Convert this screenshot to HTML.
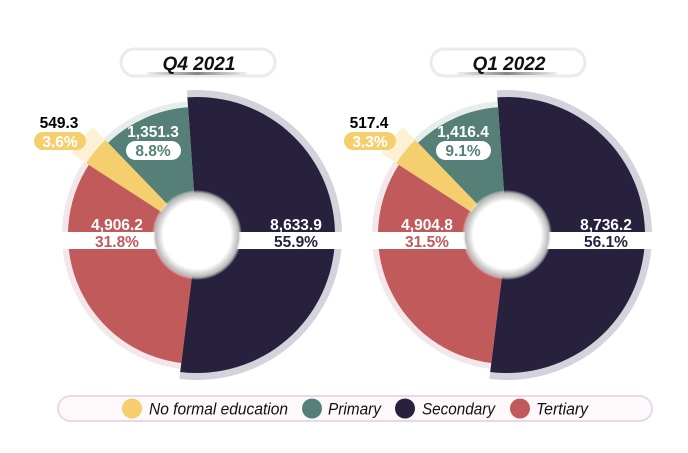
<!DOCTYPE html>
<html><head><meta charset="utf-8"><style>
body{margin:0;background:#fff;width:688px;height:453px;overflow:hidden}
svg{display:block;font-family:"Liberation Sans",Arial,sans-serif}
</style></head><body>
<svg id="s" width="688" height="453" viewBox="0 0 688 453">
<defs>
<radialGradient id="hole" cx="50%" cy="50%" r="50%">
<stop offset="0.75" stop-color="#fff"/><stop offset="0.92" stop-color="#bdbdbd"/><stop offset="1" stop-color="#fff" stop-opacity="0"/>
</radialGradient>
<linearGradient id="tsh" x1="0" x2="1"><stop offset="0" stop-color="#eee"/><stop offset="0.5" stop-color="#888"/><stop offset="1" stop-color="#eee"/></linearGradient>
</defs>
<g id="pies"></g>
<g id="lab" font-weight="bold"></g>
<rect x="58" y="396" width="594" height="25" rx="12.5" fill="#fdf8fa" stroke="#e6d9ea" stroke-width="2"/>
<g font-size="17" font-style="italic" fill="#111">
<circle cx="132" cy="408.5" r="10" fill="#f5cf6e"/><text x="149" y="414.5" textLength="139" lengthAdjust="spacingAndGlyphs">No formal education</text>
<circle cx="312" cy="408.5" r="10" fill="#567f78"/><text x="328" y="414.5" textLength="53" lengthAdjust="spacingAndGlyphs">Primary</text>
<circle cx="405" cy="408.5" r="10" fill="#27213e"/><text x="422" y="414.5" textLength="73" lengthAdjust="spacingAndGlyphs">Secondary</text>
<circle cx="520" cy="408.5" r="10" fill="#c05a5b"/><text x="536" y="414.5" textLength="52" lengthAdjust="spacingAndGlyphs">Tertiary</text>
</g>
</svg>
<script>
const NS="http://www.w3.org/2000/svg";
function pt(cx,cy,r,a){a=a*Math.PI/180;return [cx+r*Math.sin(a),cy-r*Math.cos(a)];}
function arc(cx,cy,r0,r1,a0,a1){const L=(a1-a0)>180?1:0;const p1=pt(cx,cy,r1,a0),p2=pt(cx,cy,r1,a1),p3=pt(cx,cy,r0,a1),p4=pt(cx,cy,r0,a0);
return `M${p1}A${r1},${r1} 0 ${L} 1 ${p2}L${p3}A${r0},${r0} 0 ${L} 0 ${p4}Z`;}
function add(g,tag,at){const e=document.createElementNS(NS,tag);for(const k in at)e.setAttribute(k,at[k]);g.appendChild(e);return e;}
const G=document.getElementById('pies'),T=document.getElementById('lab');
const P=[{cx:197,t:"Q4 2021",v:["549.3","3.6%","1,351.3","8.8%","4,906.2","31.8%","8,633.9","55.9%"]},
{cx:507,t:"Q1 2022",v:["517.4","3.3%","1,416.4","9.1%","4,904.8","31.5%","8,736.2","56.1%"]}];
P.forEach(p=>{const cx=p.cx,cy=235;
 add(G,'path',{d:arc(cx,cy,0,145,-4,187),fill:'#d4d2da'});
 add(G,'path',{d:arc(cx,cy,0,135,187,303),fill:'#f4e7eb'});
 add(G,'path',{d:arc(cx,cy,0,134,316,356),fill:'#e6eeec'});
 add(G,'path',{d:arc(cx,cy,0,150,303,316),fill:'#fcf1d4'});
 add(G,'path',{d:arc(cx,cy,0,138,-4,187),fill:'#27213e'});
 add(G,'path',{d:arc(cx,cy,0,129,187,303),fill:'#c05a5b'});
 add(G,'path',{d:arc(cx,cy,0,128,316,356),fill:'#567f78'});
 add(G,'path',{d:arc(cx,cy,0,132,303,316),fill:'#f5cf6e'});
 add(G,'rect',{x:cx-135,y:232,width:283,height:17,fill:'#fff'});
 add(G,'circle',{cx:cx,cy:cy,r:45,fill:'url(#hole)'});
 add(G,'rect',{x:cx-76,y:49,width:154,height:27,rx:13.5,fill:'#fff',stroke:'#ebebed','stroke-width':3});
 add(G,'rect',{x:cx-50,y:72,width:100,height:3,fill:'url(#tsh)'});
 const tx=add(G,'text',{x:cx+2,y:70,'text-anchor':'middle','font-size':19,'font-weight':'bold','font-style':'italic',fill:'#111'});tx.textContent=p.t;
 const v=p.v;
 let e=add(T,'text',{x:cx-138,y:128,'font-size':15.5,fill:'#000','text-anchor':'middle'});e.textContent=v[0];
 add(T,'rect',{x:cx-163,y:132,width:52,height:18,rx:9,fill:'#f5cf6e'});
 e=add(T,'text',{x:cx-137,y:147,'font-size':15.5,fill:'#fff','text-anchor':'middle'});e.textContent=v[1];
 e=add(T,'text',{x:cx-44,y:137,'font-size':15.5,fill:'#fff','text-anchor':'middle'});e.textContent=v[2];
 add(T,'rect',{x:cx-71,y:141,width:55,height:19,rx:9.5,fill:'#fff'});
 e=add(T,'text',{x:cx-44,y:156,'font-size':15.5,fill:'#567f78','text-anchor':'middle'});e.textContent=v[3];
 e=add(T,'text',{x:cx-80,y:230,'font-size':15.5,fill:'#fff','text-anchor':'middle'});e.textContent=v[4];
 e=add(T,'text',{x:cx-80,y:247,'font-size':15.5,fill:'#c05a5b','text-anchor':'middle'});e.textContent=v[5];
 e=add(T,'text',{x:cx+99,y:230,'font-size':15.5,fill:'#fff','text-anchor':'middle'});e.textContent=v[6];
 e=add(T,'text',{x:cx+99,y:247,'font-size':15.5,fill:'#27213e','text-anchor':'middle'});e.textContent=v[7];
});
</script>
</body></html>
